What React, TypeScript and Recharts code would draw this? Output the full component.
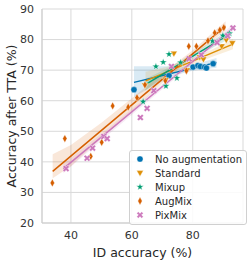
import {
  ComposedChart, Scatter, Line, Area, XAxis, YAxis, CartesianGrid, Legend,
} from "recharts";

const FONT = "DejaVu Sans";

// points: [ID accuracy, accuracy after TTA]
const noAugPts = [[60.7, 63.6], [72.2, 68.2], [80.1, 71.0], [81.7, 71.5], [82.5, 71.2], [83.9, 71.0], [84.5, 70.7], [86.7, 72.1]];
const standardPts = [[64.3, 65.0], [71.1, 66.7], [73.8, 75.4], [78.1, 69.9], [82.3, 74.2], [83.5, 73.5], [89.5, 77.8], [91.0, 79.8], [93.0, 78.8]];
const mixupPts = [[63.7, 59.7], [67.9, 71.2], [70.3, 72.6], [72.2, 75.2], [71.2, 64.8], [74.8, 67.4], [76.0, 72.5], [86.5, 79.5], [89.9, 81.3], [92.1, 82.0]];
const augMixPts = [[33.9, 33.1], [38.0, 47.6], [46.5, 41.8], [50.1, 46.4], [53.7, 58.3], [58.8, 57.9], [61.7, 61.0], [64.3, 65.2], [71.0, 66.5], [77.9, 69.8], [78.7, 77.8], [81.2, 77.8], [85.0, 79.6], [87.2, 82.2], [88.9, 83.1], [90.2, 83.9]];
const pixMixPts = [[38.4, 37.8], [45.3, 41.2], [47.1, 44.5], [50.8, 48.3], [51.9, 47.6], [62.8, 54.5], [65.0, 57.5], [67.2, 63.3], [73.0, 71.2], [78.8, 73.7], [82.8, 75.0], [88.0, 79.0], [91.5, 81.2], [93.2, 83.8]];

// regression lines (ends) and CI bands [x, low, high]
const noAugFit = [[60.7, 66.0], [87.8, 72.5]];
const standardFit = [[64.5, 66.5], [93.2, 78.5]];
const mixupFit = [[64.3, 65.2], [92.1, 81.8]];
const augMixFit = [[34.0, 36.9], [90.8, 84.4]];
const pixMixFit = [[37.5, 37.8], [93.2, 83.8]];

const noAugBand = [[60.7, 61.2, 71.3], [67, 64.8, 71.3], [72.5, 67.5, 71.3], [74, 68.3, 70.5], [80, 69.8, 71.8], [87.8, 70.8, 74.0]];
const standardBand = [[64.5, 63.5, 69.5], [72, 68.8, 71.2], [80, 71.6, 74.0], [86, 74.2, 76.6], [93.2, 76.8, 80.2]];
const mixupBand = [[64.3, 63.3, 67.0], [72, 68.8, 70.8], [80, 73.8, 75.5], [86, 77.1, 79.3], [92.1, 80.3, 83.2]];
const augMixBand = [[34, 34.6, 42.5], [40, 38.6, 45.5], [50, 47.8, 52.8], [60, 56.3, 60.8], [70, 65.8, 68.9], [80, 74.5, 76.5], [90.8, 83.0, 86.0]];
const pixMixBand = [[37.5, 36.3, 39.4], [50, 47.0, 49.2], [65, 59.6, 61.4], [80, 72.1, 73.8], [93.2, 82.6, 85.0]];

const xTicks = [40, 60, 80];
const yTicks = [20, 30, 40, 50, 60, 70, 80, 90];

const circle = (cx: number, cy: number, c: string) => (
  <circle cx={cx} cy={cy} r={3.1} fill={c} stroke="#fff" strokeWidth={0.4} />
);
const triDown = (cx: number, cy: number, c: string) => (
  <polygon points={`${cx - 3.4},${cy - 2.4} ${cx + 3.4},${cy - 2.4} ${cx},${cy + 3.4}`} fill={c} stroke="#fff" strokeWidth={0.4} />
);
const star = (cx: number, cy: number, c: string) => {
  const pts: string[] = [];
  for (let i = 0; i < 10; i++) {
    const r = i % 2 === 0 ? 3.8 : 1.6;
    const a = -Math.PI / 2 + (i * Math.PI) / 5;
    pts.push(`${cx + r * Math.cos(a)},${cy + r * Math.sin(a)}`);
  }
  return <polygon points={pts.join(" ")} fill={c} stroke="#fff" strokeWidth={0.4} />;
};
const thinDiamond = (cx: number, cy: number, c: string) => (
  <polygon points={`${cx},${cy - 3.9} ${cx + 2.2},${cy} ${cx},${cy + 3.9} ${cx - 2.2},${cy}`} fill={c} stroke="#fff" strokeWidth={0.4} />
);
const xMark = (cx: number, cy: number, c: string) => {
  const a = 3.3, w = 1.6;
  const p = [
    [-a + w, -a], [0, -w], [a - w, -a], [a, -a + w], [w, 0], [a, a - w],
    [a - w, a], [0, w], [-a + w, a], [-a, a - w], [-w, 0], [-a, -a + w],
  ].map(([dx, dy]) => `${cx + dx},${cy + dy}`).join(" ");
  return <polygon points={p} fill={c} stroke="#fff" strokeWidth={0.4} />;
};

const series = [
  { name: "No augmentation", color: "#0173b2", mark: circle, pts: noAugPts, fit: noAugFit, band: noAugBand },
  { name: "Standard", color: "#de8f05", mark: triDown, pts: standardPts, fit: standardFit, band: standardBand },
  { name: "Mixup", color: "#029e73", mark: star, pts: mixupPts, fit: mixupFit, band: mixupBand },
  { name: "AugMix", color: "#d55e00", mark: thinDiamond, pts: augMixPts, fit: augMixFit, band: augMixBand },
  { name: "PixMix", color: "#cc78bc", mark: xMark, pts: pixMixPts, fit: pixMixFit, band: pixMixBand },
];

const LegendBox = () => (
  <div style={{
    background: "rgba(255,255,255,0.85)", border: "1px solid #d0d0d0", borderRadius: 3,
    padding: "1px 4px 2px 4px", fontFamily: FONT, fontSize: 10, color: "#262626",
    whiteSpace: "nowrap", width: "max-content",
  }}>
    {series.map((s) => (
      <div key={s.name} style={{ display: "flex", alignItems: "center", height: 14 }}>
        <svg width={12} height={12} style={{ marginRight: 9, flex: "none" }}>{s.mark(6, 6, s.color)}</svg>
        <span>{s.name}</span>
      </div>
    ))}
  </div>
);

export default function App() {
  return (
    <div style={{ position: "absolute", left: 0, top: 0 }}>
      <ComposedChart width={249} height={262} margin={{ top: 9, right: 6, bottom: 0, left: 0 }}>
        <CartesianGrid stroke="#d9d9d9" strokeWidth={1} />
        <XAxis type="number" dataKey="x" domain={[30.5, 96.5]} ticks={xTicks} allowDataOverflow
          height={39} tickLine={false} axisLine={{ stroke: "#cccccc" }}
          tick={{ fill: "#333", fontSize: 11, fontFamily: FONT }}
          label={{ value: "ID accuracy (%)", position: "insideBottom", offset: 5, fill: "#262626", fontSize: 12.5, fontFamily: FONT }} />
        <YAxis type="number" dataKey="y" domain={[20, 90]} ticks={yTicks} allowDataOverflow
          width={42} tickLine={false} axisLine={{ stroke: "#cccccc" }}
          tick={{ fill: "#333", fontSize: 11, fontFamily: FONT }}
          label={{ value: "Accuracy after TTA (%)", angle: -90, position: "insideLeft", offset: 12, fill: "#262626", fontSize: 12.5, fontFamily: FONT, style: { textAnchor: "middle" } }} />
        {series.map((s) => (
          <Area key={s.name + "-band"} data={s.band.map(([x, lo, hi]) => ({ x, band: [lo, hi] }))}
            dataKey="band" type="linear" stroke="none" fill={s.color} fillOpacity={0.15}
            isAnimationActive={false} legendType="none" />
        ))}
        {series.map((s) => (
          <Scatter key={s.name} name={s.name} data={s.pts.map(([x, y]) => ({ x, y }))}
            fill={s.color} isAnimationActive={false}
            shape={(p: any) => s.mark(p.cx, p.cy, s.color)} />
        ))}
        {series.map((s) => (
          <Line key={s.name + "-fit"} data={s.fit.map(([x, y]) => ({ x, y }))} dataKey="y"
            type="linear" stroke={s.color} strokeWidth={1.5} dot={false} activeDot={false}
            isAnimationActive={false} legendType="none" />
        ))}
        <Legend layout="vertical" align="center" verticalAlign="middle" content={<LegendBox />}
          wrapperStyle={{ position: "absolute", left: 129, top: 150, width: "auto" }} />
      </ComposedChart>
    </div>
  );
}
